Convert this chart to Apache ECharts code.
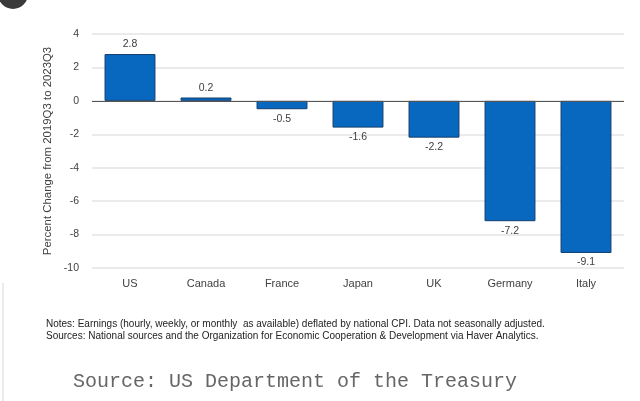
<!DOCTYPE html>
<html><head><meta charset="utf-8">
<script src="https://cdn.jsdelivr.net/npm/echarts@6/dist/echarts.min.js"></script>
<style>html,body{margin:0;padding:0;background:#fff}#c{width:640px;height:401px}</style>
</head><body><div id="c"></div>
<script>
const categories = ['US','Canada','France','Japan','UK','Germany','Italy'];
const values = [2.8, 0.2, -0.5, -1.6, -2.2, -7.2, -9.1];
const yTicks = {min: -10, max: 4, interval: 2};
const axisTitle = 'Percent Change from 2019Q3 to 2023Q3';
const notes = 'Notes: Earnings (hourly, weekly, or monthly  as available) deflated by national CPI. Data not seasonally adjusted.';
const sources = 'Sources: National sources and the Organization for Economic Cooperation & Development via Haver Analytics.';
const credit = 'Source: US Department of the Treasury';

const chart = echarts.init(document.getElementById('c'), null, {renderer: 'canvas'});
chart.setOption({
  animation: false,
  backgroundColor: '#fff',
  grid: {left: 92, right: 16, top: 34, bottom: 133},
  xAxis: {
    type: 'category', data: categories,
    axisLine: {show: false}, axisTick: {show: false},
    axisLabel: {color: '#404040', fontFamily: 'Liberation Sans, Arial', fontSize: 11, margin: 10, interval: 0}
  },
  yAxis: {
    type: 'value', min: yTicks.min, max: yTicks.max, interval: yTicks.interval,
    name: axisTitle, nameLocation: 'middle', nameGap: 36,
    nameTextStyle: {color: '#404040', fontFamily: 'Liberation Sans, Arial', fontSize: 11.4},
    axisLine: {show: false}, axisTick: {show: false},
    axisLabel: {color: '#404040', fontFamily: 'Liberation Sans, Arial', fontSize: 10.5, margin: 13},
    splitLine: {lineStyle: {color: '#e4e4e4', width: 1.5}}
  },
  series: [{
    type: 'bar', barWidth: '67%',
    data: values.map(v => ({value: v, label: {position: v >= 0 ? 'top' : 'bottom'}})),
    itemStyle: {color: '#0868c0', borderColor: '#123e6e', borderWidth: 1},
    label: {show: true, color: '#404040', fontFamily: 'Liberation Sans, Arial', fontSize: 10.5, distance: 4,
      formatter: p => p.value.toFixed(1)},
    markLine: {silent: true, symbol: 'none', label: {show: false},
      lineStyle: {color: '#555', width: 1, type: 'solid'}, data: [{yAxis: 0}]}
  }],
  graphic: [
    {type: 'circle', shape: {cx: 13, cy: -6, r: 15}, style: {fill: '#3a3a3a'}},
    {type: 'line', shape: {x1: 3, y1: 283, x2: 3, y2: 401}, style: {stroke: '#d8d8d8', lineWidth: 1}},
    {type: 'text', left: 46, top: 319, style: {text: notes, fill: '#222', font: '10px "Liberation Sans", Arial'}},
    {type: 'text', left: 46, top: 331, style: {text: sources, fill: '#222', font: '10px "Liberation Sans", Arial'}},
    {type: 'text', left: 73, top: 372, style: {text: credit, fill: '#666', font: '20px "Liberation Mono", "DejaVu Sans Mono", monospace'}}
  ]
});
</script></body></html>
